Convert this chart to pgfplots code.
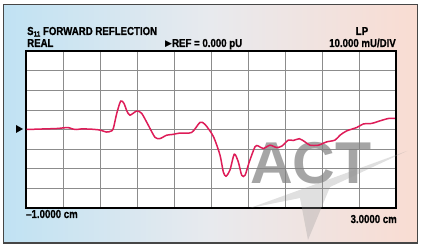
\documentclass[border=0pt]{standalone}
\usepackage{pgfplots}
\pgfplotsset{compat=1.18}
\usepackage{fontspec}
\setmainfont{Liberation Sans}
\newfontfamily\condfont[FakeStretch=0.84, BoldFeatures={FakeBold=0.8}]{Liberation Sans}
\newfontfamily\symfont{DejaVu Sans}
\definecolor{bgleft}{RGB}{192,226,243}
\definecolor{bgmid}{RGB}{232,234,238}
\definecolor{bgright}{RGB}{249,220,210}
\definecolor{trace}{RGB}{222,28,88}
\definecolor{framegray}{RGB}{70,70,70}
\begin{document}
\begin{tikzpicture}
\fill[white] (0pt,0pt) rectangle (423pt,249pt);
\useasboundingbox (0pt,0pt) rectangle (423pt,249pt);
\shade[left color=bgleft, right color=bgright, middle color=bgmid] (3pt,6pt) rectangle (417pt,244pt);
\draw[framegray, line width=1pt] (3pt,6pt) rectangle (417pt,244pt);
\begin{axis}[
  at={(26pt,41pt)}, anchor=south west,
  scale only axis, width=370pt, height=157pt,
  xmin=-1, xmax=3, ymin=-40, ymax=40,
  xtick={-1,-0.6,-0.2,0.2,0.6,1,1.4,1.8,2.2,2.6,3},
  ytick={-40,-30,-20,-10,0,10,20,30,40},
  xticklabels={}, yticklabels={},
  major tick length=0pt,
  grid=major,
  major grid style={draw=black!45, line width=0.7pt},
  axis line style={black, line width=1.3pt},
  axis background/.style={fill=white},
  clip=false,
]
\node[text=black!50, opacity=0.7, font=\bfseries\fontsize{59}{59}\selectfont, inner sep=0pt] at (axis cs:2.08,-17.2) {ACT};
\addplot[trace, line width=1.5pt, smooth, tension=0.45] coordinates {
(-0.992,0.0) (-0.80,0.3) (-0.668,0.5) (-0.546,1.0) (-0.50,0.3) (-0.452,0.0)
(-0.40,0.3) (-0.308,0.2) (-0.25,0.0) (-0.200,-0.3) (-0.128,-1.3) (-0.080,-0.8)
(-0.056,0.5) (-0.019,8.2) (0.024,14.5) (0.059,13.3) (0.09,9.5) (0.124,7.3)
(0.197,9.4) (0.251,8.2) (0.322,2.2) (0.395,-4.0) (0.449,-4.6) (0.521,-2.9)
(0.589,-2.5) (0.665,-1.8) (0.791,-1.5) (0.881,3.6) (0.935,2.6) (1.025,-3.5)
(1.097,-13.0) (1.133,-21.6) (1.162,-23.8) (1.205,-20.7) (1.252,-12.6) (1.295,-16.5)
(1.332,-23.3) (1.368,-23.3) (1.414,-16.5) (1.476,-8.8) (1.511,-8.4) (1.565,-9.7)
(1.638,-8.0) (1.710,-9.2) (1.768,-8.4) (1.836,-5.4) (1.890,-5.6) (1.955,-4.7)
(2.016,-6.3) (2.070,-8.0) (2.160,-8.0) (2.251,-6.3) (2.341,-5.4) (2.395,-2.9)
(2.467,-0.7) (2.575,1.0) (2.646,2.8) (2.737,3.1) (2.827,4.4) (2.917,5.6) (2.989,5.6)
};
\end{axis}
% watermark swoosh
\fill[black!40, opacity=0.3] (250pt,41pt) -- (407pt,98pt) -- (330pt,62pt) -- (308pt,9pt) -- (300pt,51pt) -- cycle;
% reference marker
\fill[black] (16pt,124pt) -- (23pt,120pt) -- (16pt,116pt) -- cycle;
% header texts
\node[anchor=base west, inner sep=0pt, font=\condfont\bfseries\fontsize{11.5}{11.5}\selectfont] at (27pt,214pt) {S\raisebox{-0.25ex}{\fontsize{7.5}{7.5}\selectfont 11} FORWARD REFLECTION};
\node[anchor=base west, inner sep=0pt, font=\condfont\bfseries\fontsize{11.5}{11.5}\selectfont] at (27pt,202pt) {REAL};
\node[anchor=base west, inner sep=0pt, font=\condfont\bfseries\fontsize{11.5}{11.5}\selectfont] at (165pt,202pt) {{\symfont\fontsize{9}{9}\selectfont ▶}REF = 0.000 pU};
\node[anchor=base, inner sep=0pt, font=\condfont\bfseries\fontsize{11.5}{11.5}\selectfont] at (362pt,214pt) {LP};
\node[anchor=base east, inner sep=0pt, font=\condfont\bfseries\fontsize{11.5}{11.5}\selectfont] at (396pt,202pt) {10.000 mU/DIV};
\node[anchor=base west, inner sep=0pt, font=\condfont\bfseries\fontsize{11.5}{11.5}\selectfont] at (26pt,31pt) {–1.0000 cm};
\node[anchor=base east, inner sep=0pt, font=\condfont\bfseries\fontsize{11.5}{11.5}\selectfont] at (397pt,26pt) {3.0000 cm};
\end{tikzpicture}
\end{document}
